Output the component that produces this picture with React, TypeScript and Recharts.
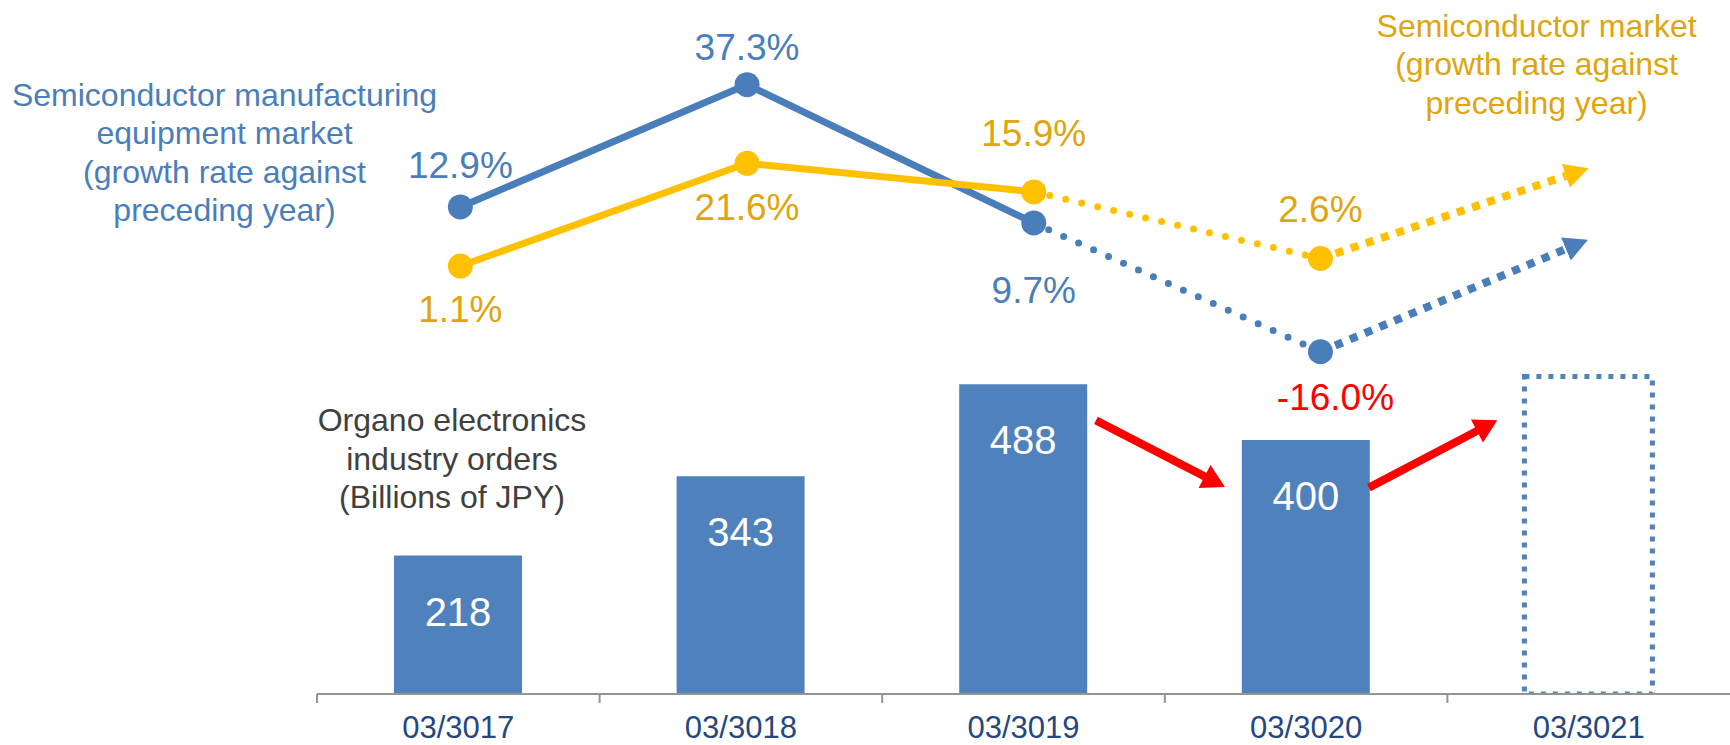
import { ComposedChart, Bar, Line, XAxis, YAxis, LabelList, ReferenceLine } from "recharts";

const categories = ["03/3017", "03/3018", "03/3019", "03/3020", "03/3021"];
const ordersBillionJpy = [218, 343, 488, 400, null];
const ordersOutlook = [null, null, null, null, 500];
const equipmentGrowth = [12.9, 37.3, 9.7, -16.0];
const marketGrowth = [1.1, 21.6, 15.9, 2.6];
// outlook arrows toward 03/3021 (x = period index, y = growth %)
const outlookArrowX = 3.856;
const equipmentOutlookEnd = 4.5;
const marketOutlookEnd = 19.1;
// red trend arrows: [fromPeriod, fromOrders, toPeriod, toOrders]
const trendArrows = [
  [2.217, 431, 2.667, 326],
  [3.169, 325, 3.617, 431],
];

const W = 1730;
const H = 745;
const LEFT = 317;
const HALF_BAND = (W - LEFT) / categories.length / 2;

const FONT = '"Liberation Sans", Arial, sans-serif';
const BAR_BLUE = "#4F81BD";
const LINE_BLUE = "#4A7EBB";
const YELLOW = "#FFC000";
const GOLD_TEXT = "#E0A40C";
const RED = "#FF0000";
const AXIS_GRAY = "#939393";
const TICK_NAVY = "#24477F";

// label placement (baseline offset from point)
const equipLabelDy = [-29, -25, 80, 58];
const equipLabelDx = [0, 0, 0, 15];
const marketLabelDy = [56, 57, -46, -37];

function CategoryTick(props: any) {
  const { x, y, payload } = props;
  return (
    <g>
      <line x1={x - HALF_BAND} x2={x - HALF_BAND} y1={y} y2={y + 9} stroke={AXIS_GRAY} strokeWidth={2} />
      <text x={x} y={y + 44} textAnchor="middle" fill={TICK_NAVY} fontSize={31} fontFamily={FONT}>
        {payload.value}
      </text>
    </g>
  );
}

function BarValueLabel(props: any) {
  if (props.value == null) return null;
  const vb = props.viewBox ?? props;
  return (
    <text x={vb.x + vb.width / 2} y={vb.y + 70} textAnchor="middle" fill="#fff" fontSize={40} fontFamily={FONT}>
      {props.value}
    </text>
  );
}

const pctLabel = (dys: number[], dxs: number[] | null, color: string) => (props: any) => {
  const { index, value } = props;
  const x = props.x ?? props.viewBox?.x;
  const y = props.y ?? props.viewBox?.y;
  if (value == null) return null;
  return (
    <text
      x={x + (dxs ? dxs[index] : 0)}
      y={y + dys[index]}
      textAnchor="middle"
      fill={value < 0 ? RED : color}
      fontSize={37}
      fontFamily={FONT}
    >
      {Number(value).toFixed(1)}%
    </text>
  );
};

function RedArrow(props: any) {
  const { x1, y1, x2, y2 } = props;
  const len = Math.hypot(x2 - x1, y2 - y1);
  const ux = (x2 - x1) / len;
  const uy = (y2 - y1) / len;
  const bx = x2 - ux * 23;
  const by = y2 - uy * 23;
  return (
    <g>
      <line x1={x1} y1={y1} x2={bx + ux} y2={by + uy} stroke={RED} strokeWidth={8} />
      <polygon points={`${x2},${y2} ${bx - uy * 13},${by + ux * 13} ${bx + uy * 13},${by - ux * 13}`} fill={RED} />
    </g>
  );
}

export default function App() {
  const rows = categories.map((c, i) => ({ period: c, orders: ordersBillionJpy[i], outlook: ordersOutlook[i] }));

  const equipSolid = [0, 1, 2].map((i) => ({ x: i, v: equipmentGrowth[i] }));
  const equipDotted = [2, 3].map((i) => ({ x: i, v: equipmentGrowth[i] }));
  const equipOutlook = [{ x: 3, v: equipmentGrowth[3] }, { x: outlookArrowX, v: equipmentOutlookEnd }];
  const equipPoints = equipmentGrowth.map((v, i) => ({ x: i, v }));

  const marketSolid = [0, 1, 2].map((i) => ({ x: i, v: marketGrowth[i] }));
  const marketDotted = [2, 3].map((i) => ({ x: i, v: marketGrowth[i] }));
  const marketOutlook = [{ x: 3, v: marketGrowth[3] }, { x: outlookArrowX, v: marketOutlookEnd }];
  const marketPoints = marketGrowth.map((v, i) => ({ x: i, v }));

  const titleStyle = {
    position: "absolute" as const,
    width: 520,
    textAlign: "center" as const,
    fontFamily: FONT,
    fontSize: 32,
    lineHeight: "38.4px",
  };

  return (
    <div style={{ position: "absolute", left: 0, top: 0, width: W, height: H, background: "#fff", overflow: "hidden" }}>
      <svg width={0} height={0} style={{ position: "absolute" }}>
        <defs>
          <marker id="headBlue" viewBox="0 0 24 25" markerWidth={24} markerHeight={25} refX={0} refY={12.5} orient="auto" markerUnits="userSpaceOnUse">
            <path d="M0,0 L24,12.5 L0,25 Z" fill={LINE_BLUE} />
          </marker>
          <marker id="headYellow" viewBox="0 0 24 25" markerWidth={24} markerHeight={25} refX={0} refY={12.5} orient="auto" markerUnits="userSpaceOnUse">
            <path d="M0,0 L24,12.5 L0,25 Z" fill={YELLOW} />
          </marker>
        </defs>
      </svg>
      <ComposedChart width={W} height={H} data={rows} margin={{ top: 21, right: 0, bottom: 0, left: LEFT }}>
        <XAxis
          xAxisId="cat"
          dataKey="period"
          height={51}
          interval={0}
          tickSize={0}
          tickMargin={0}
          tickLine={false}
          axisLine={{ stroke: AXIS_GRAY, strokeWidth: 2 }}
          tick={(p: any) => <CategoryTick {...p} />}
        />
        <XAxis xAxisId="idx" type="number" dataKey="x" domain={[-0.5, 4.4285]} allowDataOverflow hide />
        <YAxis yAxisId="val" domain={[0, 1060]} allowDataOverflow hide />
        <YAxis yAxisId="pct" domain={[-84.3, 50]} allowDataOverflow hide />

        <Bar xAxisId="cat" yAxisId="val" dataKey="orders" stackId="s" barSize={128} fill={BAR_BLUE} isAnimationActive={false}>
          <LabelList dataKey="orders" content={BarValueLabel} />
        </Bar>
        <Bar
          xAxisId="cat"
          yAxisId="val"
          dataKey="outlook"
          stackId="s"
          barSize={128}
          fill="none"
          stroke={BAR_BLUE}
          strokeWidth={5}
          strokeDasharray="5 7"
          isAnimationActive={false}
        />

        {trendArrows.map((a, i) => (
          <ReferenceLine
            key={i}
            xAxisId="idx"
            yAxisId="val"
            segment={[{ x: a[0], y: a[1] }, { x: a[2], y: a[3] }]}
            ifOverflow="visible"
            shape={RedArrow}
          />
        ))}

        <Line xAxisId="idx" yAxisId="pct" data={equipSolid} dataKey="v" stroke={LINE_BLUE} strokeWidth={7} dot={false} activeDot={false} isAnimationActive={false} />
        <Line xAxisId="idx" yAxisId="pct" data={equipDotted} dataKey="v" stroke={LINE_BLUE} strokeWidth={7} strokeDasharray="0 16.4" strokeLinecap="round" dot={false} activeDot={false} isAnimationActive={false} />
        <Line xAxisId="idx" yAxisId="pct" data={equipOutlook} dataKey="v" stroke={LINE_BLUE} strokeWidth={8} strokeDasharray="8 8" markerEnd="url(#headBlue)" dot={false} activeDot={false} isAnimationActive={false} />

        <Line xAxisId="idx" yAxisId="pct" data={marketSolid} dataKey="v" stroke={YELLOW} strokeWidth={7} dot={false} activeDot={false} isAnimationActive={false} />
        <Line xAxisId="idx" yAxisId="pct" data={marketDotted} dataKey="v" stroke={YELLOW} strokeWidth={7} strokeDasharray="0 16.4" strokeLinecap="round" dot={false} activeDot={false} isAnimationActive={false} />
        <Line xAxisId="idx" yAxisId="pct" data={marketOutlook} dataKey="v" stroke={YELLOW} strokeWidth={8} strokeDasharray="8 8" markerEnd="url(#headYellow)" dot={false} activeDot={false} isAnimationActive={false} />

        <Line xAxisId="idx" yAxisId="pct" data={equipPoints} dataKey="v" stroke="none" dot={{ r: 12.5, fill: LINE_BLUE, stroke: "none" }} activeDot={false} isAnimationActive={false}>
          <LabelList dataKey="v" content={pctLabel(equipLabelDy, equipLabelDx, LINE_BLUE)} />
        </Line>
        <Line xAxisId="idx" yAxisId="pct" data={marketPoints} dataKey="v" stroke="none" dot={{ r: 12.5, fill: YELLOW, stroke: "none" }} activeDot={false} isAnimationActive={false}>
          <LabelList dataKey="v" content={pctLabel(marketLabelDy, null, GOLD_TEXT)} />
        </Line>
      </ComposedChart>

      <div style={{ ...titleStyle, left: 224.5 - 260, top: 75.7, color: LINE_BLUE }}>
        Semiconductor manufacturing
        <br />
        equipment market
        <br />
        (growth rate against
        <br />
        preceding year)
      </div>
      <div style={{ ...titleStyle, left: 1536.6 - 260, top: 7, color: GOLD_TEXT }}>
        Semiconductor market
        <br />
        (growth rate against
        <br />
        preceding year)
      </div>
      <div style={{ ...titleStyle, left: 452 - 260, top: 401.4, color: "#404040" }}>
        Organo electronics
        <br />
        industry orders
        <br />
        (Billions of JPY)
      </div>
    </div>
  );
}
